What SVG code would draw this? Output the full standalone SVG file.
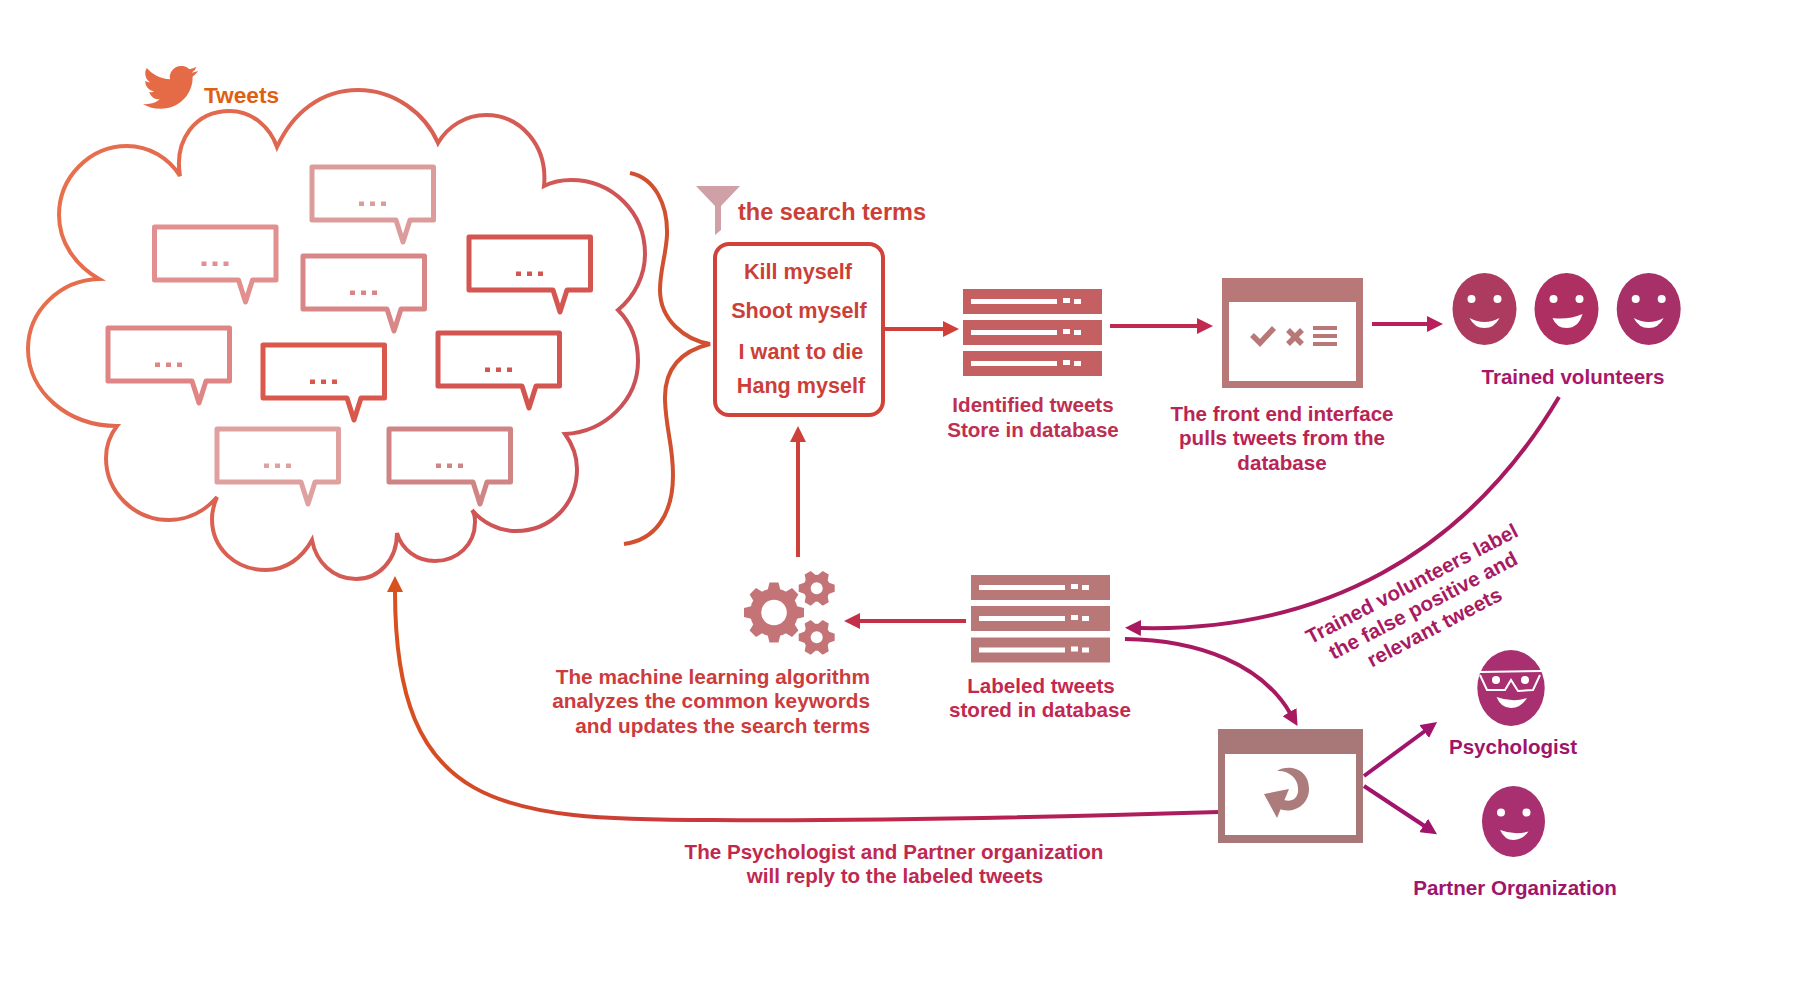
<svg xmlns="http://www.w3.org/2000/svg" width="1800" height="991" viewBox="0 0 1800 991">
<style>
text{font-family:"Liberation Sans",Arial,sans-serif;font-weight:700;font-size:20.6px;text-anchor:middle}
.end{text-anchor:end;font-size:20.8px}
.big{font-size:21.6px}
.c{fill:none;stroke-width:4}
.w{fill:#fff}
.ws{fill:none;stroke:#fff}
</style>
<defs>
<linearGradient id="cg" gradientUnits="userSpaceOnUse" x1="28" y1="200" x2="645" y2="450"><stop offset="0" stop-color="#e9714c"/><stop offset="1" stop-color="#c94f58"/></linearGradient>
<linearGradient id="lg" gradientUnits="userSpaceOnUse" x1="396" y1="0" x2="1219" y2="0"><stop offset="0" stop-color="#d8501e"/><stop offset=".35" stop-color="#c83a3c"/><stop offset=".7" stop-color="#b82250"/><stop offset="1" stop-color="#aa1c62"/></linearGradient>
<g id="bubble">
<path d="M0 0H121.500V53H98L91 75 84 53H0Z" fill="#fff" stroke="currentColor" stroke-width="5" stroke-linejoin="round"/>
<rect x="47" y="34.500" width="5" height="4.500" fill="currentColor"/><rect x="58" y="34.500" width="5" height="4.500" fill="currentColor"/><rect x="69" y="34.500" width="5" height="4.500" fill="currentColor"/>
</g>
<g id="dbrow">
<rect width="139" height="25" fill="currentColor"/>
<rect x="8" y="10" width="86" height="5" class="w"/><rect x="100" y="9" width="7" height="5" class="w"/><rect x="111" y="10" width="7" height="5" class="w"/>
</g>
<g id="gear-big" fill="#c47476">
<circle r="24"/>
<path id="bar8" d="M-30-4.500L-22-6.500H22L30-4.500V4.500L22 6.500H-22L-30 4.500Z"/>
<use href="#bar8" transform="rotate(45)"/><use href="#bar8" transform="rotate(90)"/><use href="#bar8" transform="rotate(135)"/>
<circle r="12.800" class="w"/>
</g>
<g id="gear-small" fill="#c47476">
<circle r="13.500"/>
<path id="bar6" d="M-18-3.500L-12.500-5.500H12.500L18-3.500V3.500L12.500 5.500H-12.500L-18 3.500Z"/>
<use href="#bar6" transform="rotate(60)"/><use href="#bar6" transform="rotate(120)"/>
<circle r="6" class="w"/>
</g>
<marker id="a1" markerUnits="userSpaceOnUse" markerWidth="16" markerHeight="16" refX="1" refY="8" orient="auto"><path d="M0 0L16 8 0 16Z" fill="#d0403a"/></marker>
<marker id="a2" markerUnits="userSpaceOnUse" markerWidth="16" markerHeight="16" refX="1" refY="8" orient="auto"><path d="M0 0L16 8 0 16Z" fill="#c02a50"/></marker>
<marker id="a3" markerUnits="userSpaceOnUse" markerWidth="16" markerHeight="16" refX="1" refY="8" orient="auto"><path d="M0 0L16 8 0 16Z" fill="#b81f5c"/></marker>
<marker id="a4" markerUnits="userSpaceOnUse" markerWidth="16" markerHeight="16" refX="1" refY="8" orient="auto"><path d="M0 0L16 8 0 16Z" fill="#c43048"/></marker>
<marker id="a5" markerUnits="userSpaceOnUse" markerWidth="16" markerHeight="16" refX="1" refY="8" orient="auto"><path d="M0 0L16 8 0 16Z" fill="#a81a60"/></marker>
<marker id="a6" markerUnits="userSpaceOnUse" markerWidth="16" markerHeight="16" refX="1" refY="8" orient="auto"><path d="M0 0L16 8 0 16Z" fill="#a0146c"/></marker>
<marker id="a7" markerUnits="userSpaceOnUse" markerWidth="16" markerHeight="16" refX="1" refY="8" orient="auto"><path d="M0 0L16 8 0 16Z" fill="#d8501e"/></marker>
</defs>
<rect width="1800" height="991" fill="#fff"/>

<g id="connectors">
<path class="c" stroke="#d0403a" marker-end="url(#a1)" d="M885 329H944"/>
<path class="c" stroke="#c02a50" marker-end="url(#a2)" d="M1110 326H1198"/>
<path class="c" stroke="#b81f5c" marker-end="url(#a3)" d="M1372 324H1428"/>
<path class="c" stroke="#a81a60" marker-end="url(#a5)" d="M1559 397C1465 555 1320 632 1140 628"/>
<path class="c" stroke="#c43048" marker-end="url(#a4)" d="M966 621H859"/>
<path class="c" stroke="#d0403a" marker-end="url(#a1)" d="M798 557V441"/>
<path class="c" stroke="#a81a60" marker-end="url(#a5)" d="M1125 639C1200 640 1262 665 1290 713"/>
<path class="c" stroke="#a0146c" marker-end="url(#a6)" d="M1364 776L1425 731"/>
<path class="c" stroke="#a0146c" marker-end="url(#a6)" d="M1364 786L1424.500 826"/>
<path class="c" stroke="url(#lg)" marker-end="url(#a7)" d="M1219 812C1020 818 850 821 713 820C500 820 395 810 395 591"/>
</g>

<g id="cloud">
<path fill="none" stroke="url(#cg)" stroke-width="4" d="M180 176C174 140 195 111 230 111C252 111 270 127 277 147C293 112 322 90 358 90C394 90 425 113 438 143C448 126 466 115 486 115C520 115 548 145 544 186C552 182 561 180 571 180C612 180 645 212 645 254C645 275 635 296 618 310C630 322 638 340 638 361C638 400 605 432 565 434C573 445 577 457 577 469C577 505 550 531 516 531C498 531 482 522 472 510C475 514 475 518 475 522C475 545 457 561 435 561C417 561 402 550 397 533C397 560 379 579 356 579C333 579 316 562 312 540C302 558 286 570 266 570C235 570 212 548 212 519C212 511 214 504 217 497C205 511 188 520 169 520C134 520 106 492 106 458C106 446 110 435 117 426C68 426 28 392 28 349C28 311 60 280 99 279C75 265 59 242 59 215C59 177 90 146 127 146C149 146 169 158 180 176Z"/>
</g>

<g id="tweets-label">
<path fill="#e56b47" transform="translate(143 61) scale(2.300 2.200)" d="M23.953 4.570a10 10 0 01-2.825.775 4.958 4.958 0 002.163-2.723c-.951.555-2.005.959-3.127 1.184a4.920 4.920 0 00-8.384 4.482C7.690 8.095 4.067 6.130 1.640 3.162a4.822 4.822 0 00-.666 2.475c0 1.710.870 3.213 2.188 4.096a4.904 4.904 0 01-2.228-.616v.060a4.923 4.923 0 003.946 4.827 4.996 4.996 0 01-2.212.085 4.936 4.936 0 004.604 3.417 9.867 9.867 0 01-6.102 2.105c-.390 0-.779-.023-1.170-.067a13.995 13.995 0 007.557 2.209c9.053 0 13.998-7.496 13.998-13.985 0-.210 0-.420-.015-.630A9.935 9.935 0 0024 4.590z"/>
<text x="241.500" y="102.700" style="font-size:22.700px" fill="#e06010">Tweets</text>
</g>

<g id="bubbles">
<use href="#bubble" transform="translate(312 167)" color="#dd9c9c"/>
<use href="#bubble" transform="translate(154.500 227)" color="#e28f8f"/>
<use href="#bubble" transform="translate(303 256)" color="#d98686"/>
<use href="#bubble" transform="translate(469 237)" color="#d45651"/>
<use href="#bubble" transform="translate(108 328)" color="#e08585"/>
<use href="#bubble" transform="translate(263 345)" color="#d9584b"/>
<use href="#bubble" transform="translate(438 333)" color="#d25550"/>
<use href="#bubble" transform="translate(217 429)" color="#dfa0a0"/>
<use href="#bubble" transform="translate(389 429)" color="#d08585"/>
</g>

<g id="brace">
<path fill="none" stroke="#d0502f" stroke-width="4" d="M630 173C655 178 668 205 667 235C666 255 660 270 660 290C660 320 685 340 710 344C685 350 664 365 665 400C666 430 673 445 673 475C673 515 655 540 624 544"/>
</g>

<g id="search-terms">
<polygon fill="#cfa0a5" points="696,186 740,186 721,206 721,230 715,235 715,206"/>
<text x="832" y="220" style="font-size:23.500px" fill="#cc3f36">the search terms</text>
<rect x="715" y="244" width="168" height="171" rx="14" fill="#fff" stroke="#d0433a" stroke-width="4"/>
<g fill="#cc3f38">
<text class="big" x="798" y="279">Kill myself</text>
<text class="big" x="799" y="318">Shoot myself</text>
<text class="big" x="801" y="359">I want to die</text>
<text class="big" x="801" y="393">Hang myself</text>
</g>
</g>

<g id="db-identified" color="#c46062">
<use href="#dbrow" transform="translate(963 289)"/><use href="#dbrow" transform="translate(963 320)"/><use href="#dbrow" transform="translate(963 351)"/>
<text x="1033" y="412" fill="#c02f50">Identified tweets</text>
<text x="1033" y="437" fill="#c02f50">Store in database</text>
</g>

<g id="front-end">
<rect x="1222" y="278" width="141" height="110" fill="#b87878"/>
<rect x="1229" y="302" width="127" height="79" class="w"/>
<path d="M1252 335L1260 343 1274 328" fill="none" stroke="#b87878" stroke-width="5.500"/>
<path d="M1288 330L1302 344M1302 330L1288 344" fill="none" stroke="#b87878" stroke-width="5.500"/>
<path d="M1313 328H1337M1313 336H1337M1313 344H1337" fill="none" stroke="#b87878" stroke-width="4"/>
<g fill="#b82555"><text x="1282" y="421">The front end interface</text>
<text x="1282" y="445">pulls tweets from the</text>
<text x="1282" y="470">database</text></g>
</g>

<g id="volunteers">
<g transform="translate(1484.500 309)"><ellipse rx="32" ry="36" fill="#ad3b60"/><circle cx="-13" cy="-10" r="4" class="w"/><circle cx="13" cy="-10" r="4" class="w"/><path class="w" d="M-15 9Q0 17 15 9Q10 19 0 19Q-10 19-15 9Z"/></g>
<g transform="translate(1566.500 309)"><ellipse rx="32" ry="36" fill="#ae2f62"/><circle cx="-13" cy="-10" r="4" class="w"/><circle cx="13" cy="-10" r="4" class="w"/><path class="w" d="M-14 9Q2 11 16 5Q12 19 0 19Q-10 19-14 9Z"/></g>
<g transform="translate(1648.700 309)"><ellipse rx="32" ry="36" fill="#a83068"/><circle cx="-13" cy="-10" r="4" class="w"/><circle cx="13" cy="-10" r="4" class="w"/><path class="w" d="M-15 9Q0 17 15 9Q10 19 0 19Q-10 19-15 9Z"/></g>
<text x="1573" y="384" fill="#a8186a">Trained volunteers</text>
</g>

<g id="volunteers-note" transform="translate(1415 590) rotate(-27.500)" fill="#a81a62">
<text x="0" y="0">Trained volunteers label</text>
<text x="0" y="24.500">the false positive and</text>
<text x="0" y="49">relevant tweets</text>
</g>

<g id="db-labeled" color="#b87878">
<use href="#dbrow" transform="translate(971 575)"/><use href="#dbrow" transform="translate(971 606)"/><use href="#dbrow" transform="translate(971 637.500)"/>
<text x="1041" y="693" fill="#c42850">Labeled tweets</text>
<text x="1040" y="717" fill="#c42850">stored in database</text>
</g>

<g id="ml">
<use href="#gear-big" transform="translate(774 612.500)"/>
<use href="#gear-small" transform="translate(816.700 588.300)"/>
<use href="#gear-small" transform="translate(816.700 637.300)"/>
<g fill="#cc3c3c"><text class="end" x="870" y="684">The machine learning algorithm</text>
<text class="end" x="870" y="708">analyzes the common keywords</text>
<text class="end" x="870" y="733">and updates the search terms</text></g>
</g>

<g id="reply">
<rect x="1218" y="729" width="145" height="114" fill="#a87878"/>
<rect x="1225" y="754" width="131" height="81" class="w"/>
<path fill="#ac7c7c" d="M1277 771C1288 764 1309 768 1309 789C1309 807 1290 815 1278 808L1284 800C1295 803 1299 795 1298 788C1298 778 1288 770 1277 771Z"/>
<polygon fill="#ac7c7c" points="1264,794 1289,789 1277,818"/>
<g fill="#c02850"><text x="894" y="859">The Psychologist and Partner organization</text>
<text x="895" y="883">will reply to the labeled tweets</text></g>
</g>

<g id="psychologist">
<g transform="translate(1511 688)"><ellipse rx="33.700" ry="38" fill="#a83070"/>
<path class="ws" stroke-width="2" d="M-31-16L31-17M-31-13L-24 2H-6L0-8 7 3 22 2 29-13"/>
<circle cx="-15" cy="-8" r="4" class="w"/><circle cx="14" cy="-8" r="4" class="w"/><path class="w" d="M-14.500 9Q2 15 16 10Q10 20 0 20Q-10 20-14.500 9Z"/></g>
<text x="1513" y="754" fill="#a0146c">Psychologist</text>
</g>

<g id="partner">
<g transform="translate(1513.500 821.500)"><ellipse rx="31.500" ry="35.500" fill="#a83070"/>
<circle cx="-12.500" cy="-9" r="4" class="w"/><circle cx="13" cy="-9" r="4" class="w"/><path class="w" d="M-13.500 8.500Q1 14 15 10Q9 18.500 0 18.500Q-9 18.500-13.500 8.500Z"/></g>
<text x="1515" y="895" fill="#a0146c">Partner Organization</text>
</g>
</svg>
